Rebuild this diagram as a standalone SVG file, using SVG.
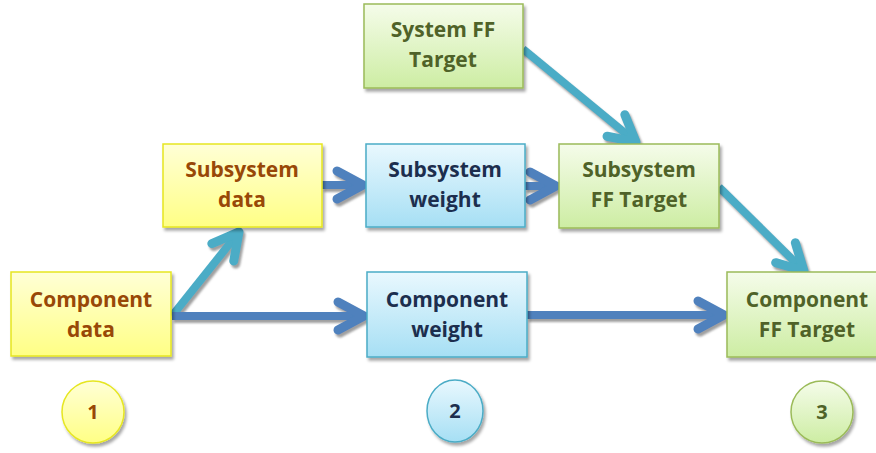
<svg xmlns="http://www.w3.org/2000/svg" width="876" height="453" viewBox="0 0 876 453">
<defs>
<linearGradient id="gy" x1="0" y1="0" x2="0" y2="1"><stop offset="0" stop-color="#FFFFD6"/><stop offset="1" stop-color="#FFFF85"/></linearGradient>
<linearGradient id="gb" x1="0" y1="0" x2="0" y2="1"><stop offset="0" stop-color="#E9F8FE"/><stop offset="1" stop-color="#A6DFF4"/></linearGradient>
<linearGradient id="gg" x1="0" y1="0" x2="0" y2="1"><stop offset="0" stop-color="#F5FCEA"/><stop offset="1" stop-color="#CDEDA3"/></linearGradient>
<filter id="sh" x="-20%" y="-20%" width="140%" height="150%"><feDropShadow dx="2" dy="3" stdDeviation="1.5" flood-color="#000" flood-opacity="0.35"/></filter>
<filter id="ash" x="-20%" y="-20%" width="140%" height="140%"><feDropShadow dx="2" dy="3" stdDeviation="1" flood-color="#777" flood-opacity="0.7"/></filter>
<marker id="mb" markerUnits="userSpaceOnUse" markerWidth="60" markerHeight="60" viewBox="-40 -30 60 60" refX="0" refY="0" orient="auto" overflow="visible"><path d="M-26,-14 L0,0 L-26,14" fill="none" stroke="#4F81BD" stroke-width="9" stroke-linecap="round" stroke-linejoin="round"/></marker>
<marker id="mt" markerUnits="userSpaceOnUse" markerWidth="60" markerHeight="60" viewBox="-40 -30 60 60" refX="0" refY="0" orient="auto" overflow="visible"><path d="M-26,-14 L0,0 L-26,14" fill="none" stroke="#4BACC6" stroke-width="9" stroke-linecap="round" stroke-linejoin="round"/></marker>
</defs>
<style>
.y{fill:url(#gy);stroke:#E6E620;stroke-width:1.5}
.b{fill:url(#gb);stroke:#4BACC6;stroke-width:1.5}
.g{fill:url(#gg);stroke:#9BBB59;stroke-width:1.5}
.box{filter:url(#sh)}
text{font-family:"Open Sans","Liberation Sans",sans-serif;font-weight:700;font-size:21px;text-anchor:middle}
.ty{fill:#984807}
.tb{fill:#1C2E4E}
.tg{fill:#4F6228}
.cb{fill:none;stroke:#4F81BD;stroke-width:8;marker-end:url(#mb)}
.ct{fill:none;stroke:#4BACC6;stroke-width:8;marker-end:url(#mt)}
.num{font-size:20px}
</style>
<g id="connectors" filter="url(#ash)">
<path class="ct" d="M172,316 L239,232"/>
<path class="cb" d="M172,316 L364,316"/>
<path class="cb" d="M322,185 L363,185"/>
<path class="cb" d="M525,186 L556,186"/>
<path class="ct" d="M523,49 L636,142"/>
<path class="ct" d="M719,187 L804,271"/>
<path class="cb" d="M527,315 L724,315"/>
</g>
<g id="component-data"><rect class="y box" x="11" y="272" width="160" height="84"/><text class="ty" x="91" y="307">Component</text><text class="ty" x="91" y="337">data</text></g>
<g id="subsystem-data"><rect class="y box" x="163" y="144" width="159" height="83"/><text class="ty" x="242" y="177">Subsystem</text><text class="ty" x="242" y="207">data</text></g>
<g id="subsystem-weight"><rect class="b box" x="366" y="144" width="159" height="83"/><text class="tb" x="445" y="177">Subsystem</text><text class="tb" x="445" y="207">weight</text></g>
<g id="system-ff-target"><rect class="g box" x="364" y="4" width="159" height="84"/><text class="tg" x="443" y="37">System FF</text><text class="tg" x="443" y="67">Target</text></g>
<g id="subsystem-ff-target"><rect class="g box" x="559" y="144" width="160" height="84"/><text class="tg" x="639" y="177">Subsystem</text><text class="tg" x="639" y="207">FF Target</text></g>
<g id="component-weight"><rect class="b box" x="367" y="272" width="160" height="85"/><text class="tb" x="447" y="307">Component</text><text class="tb" x="447" y="337">weight</text></g>
<g id="component-ff-target"><rect class="g box" x="727" y="272" width="160" height="85"/><text class="tg" x="807" y="307">Component</text><text class="tg" x="807" y="337">FF Target</text></g>
<g id="step-1"><circle class="y box" cx="93" cy="412" r="31"/><text class="ty num" x="93" y="419">1</text></g>
<g id="step-2"><ellipse class="b box" cx="455" cy="411" rx="28" ry="31"/><text class="tb num" x="455" y="418">2</text></g>
<g id="step-3"><circle class="g box" cx="822" cy="412" r="31"/><text class="tg num" x="822" y="419">3</text></g>
</svg>
